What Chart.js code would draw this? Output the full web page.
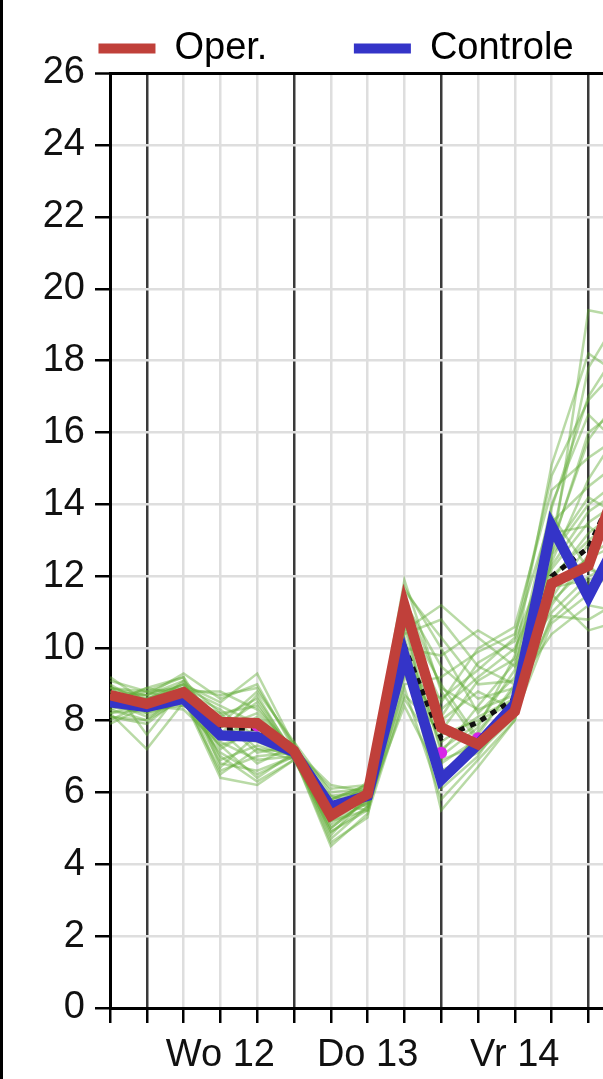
<!DOCTYPE html>
<html>
<head>
<meta charset="utf-8">
<script src="https://cdn.jsdelivr.net/npm/chart.js@4.4.1/dist/chart.umd.min.js"></script>
<style>
  html, body { margin: 0; padding: 0; background: #fff; overflow: hidden; }
  #wrap { position: relative; width: 672px; height: 1079px; }
  #edge { position: absolute; left: 0; top: 0; width: 3px; height: 1079px; background: #000; }
</style>
</head>
<body>
<div id="wrap">
  <canvas id="chart"></canvas>
  <div id="edge"></div>
</div>
<script>
// x = 6-hour steps, 0 .. 14
const steps = [0, 1, 2, 3, 4, 5, 6, 7, 8, 9, 10, 11, 12, 13, 14];
const dayLines = [1, 5, 9, 13];
const labelSteps = [3, 7, 11];
const labelTexts = ['Wo 12', 'Do 13', 'Vr 14'];

const oper     = [8.7, 8.46, 8.78, 7.95, 7.92, 7.15, 5.35, 5.95, 11.2, 7.8, 7.33, 8.25, 11.8, 12.3, 15.2];
const controle = [8.5, 8.37, 8.6, 7.58, 7.54, 7.12, 5.6, 5.9, 9.8, 6.35, 7.33, 8.45, 13.4, 11.43, 13.4];
const ensMean  = [8.6, 8.3, 8.65, 7.78, 7.78, 7.15, 5.5, 5.85, 10.05, 7.5, 7.95, 8.6, 12.0, 12.8, 15.0];
const obsSteps = [4, 6, 9, 10];
const obsVals  = [7.85, 5.6, 7.1, 7.5];

// ensemble members (green)
const members = [
  [8.9, 8.6, 9.0, 8.5, 9.3, 7.3, 5.8, 6.1, 11.9, 8.8, 7.4, 8.3, 12.5, 19.4, 19.2],
  [8.2, 7.2, 8.5, 7.1, 6.5, 7.0, 5.2, 5.7, 9.8, 5.5, 6.7, 8.0, 13.9, 17.0, 18.6],
  [8.6, 8.4, 8.8, 8.8, 8.3, 7.2, 6.1, 6.2, 10.5, 11.2, 10.3, 9.5, 11.0, 12.0, 12.5],
  [9.1, 8.8, 9.2, 7.6, 7.4, 7.0, 4.5, 5.4, 8.6, 7.0, 7.8, 9.8, 15.1, 18.2, 17.5],
  [8.4, 8.2, 8.6, 6.4, 6.2, 6.9, 5.0, 5.8, 10.9, 6.1, 7.0, 8.5, 12.2, 13.5, 14.2],
  [8.0, 8.5, 8.4, 7.9, 8.8, 7.4, 5.5, 6.0, 11.3, 9.5, 8.6, 8.9, 10.4, 11.2, 11.0],
  [8.7, 8.3, 9.1, 8.2, 7.2, 7.1, 5.7, 5.5, 9.2, 8.1, 9.6, 10.2, 12.8, 16.0, 16.8],
  [8.5, 8.9, 8.7, 6.8, 6.6, 7.0, 4.8, 5.9, 10.2, 6.8, 7.5, 8.2, 11.5, 10.5, 10.8],
  [9.0, 7.6, 8.9, 8.0, 8.0, 7.3, 5.4, 6.3, 11.6, 10.3, 9.0, 9.1, 13.5, 14.5, 15.3],
  [7.9, 8.4, 8.3, 7.3, 7.7, 6.9, 5.9, 5.6, 8.9, 5.8, 6.9, 8.0, 11.8, 12.5, 13.0],
  [8.8, 8.7, 9.3, 8.6, 9.0, 7.2, 5.3, 6.0, 10.7, 8.5, 10.0, 10.6, 14.4, 15.3, 16.0],
  [8.3, 8.0, 8.6, 6.6, 7.0, 7.1, 5.6, 5.8, 9.6, 7.4, 8.1, 8.6, 10.8, 11.8, 12.0],
  [8.6, 8.8, 8.5, 7.8, 8.5, 7.0, 4.6, 5.3, 11.0, 7.8, 7.2, 8.4, 12.0, 13.0, 13.8],
  [9.2, 8.5, 8.8, 8.3, 7.5, 7.4, 6.0, 6.1, 10.0, 9.8, 10.5, 9.9, 13.0, 17.8, 19.5],
  [8.1, 7.9, 8.7, 7.0, 6.3, 6.9, 5.1, 5.7, 8.4, 6.4, 7.6, 9.0, 11.3, 12.3, 11.5],
  [8.7, 8.6, 9.0, 7.5, 8.1, 7.2, 5.8, 6.2, 11.4, 8.9, 8.3, 8.7, 12.6, 14.0, 14.8],
  [8.4, 8.3, 8.4, 8.1, 8.6, 7.1, 5.5, 5.9, 10.3, 7.2, 7.9, 9.4, 14.0, 16.5, 15.5],
  [8.9, 8.7, 9.1, 6.9, 7.3, 7.0, 4.9, 5.6, 9.4, 6.6, 7.1, 8.1, 10.7, 11.5, 12.8],
  [8.5, 8.1, 8.6, 7.7, 6.8, 7.3, 5.9, 6.0, 10.8, 8.3, 9.2, 10.0, 12.3, 13.8, 14.5],
  [8.2, 8.5, 8.9, 8.4, 7.9, 7.0, 5.4, 5.8, 9.9, 7.6, 8.0, 8.5, 11.2, 12.6, 13.2],
  [8.6, 8.5, 8.8, 7.2, 7.8, 7.1, 5.6, 6.0, 10.4, 10.8, 9.5, 9.0, 12.9, 15.8, 17.2],
  [8.3, 8.6, 8.9, 8.7, 8.9, 7.3, 5.2, 5.5, 9.0, 9.2, 9.9, 10.4, 13.7, 12.2, 11.8],
  [8.8, 8.2, 8.5, 7.4, 6.9, 7.0, 5.0, 5.8, 10.6, 7.1, 8.4, 9.6, 11.9, 13.2, 14.0],
  [8.5, 8.9, 9.2, 6.7, 7.6, 7.2, 5.7, 6.1, 11.1, 8.0, 8.8, 8.3, 10.9, 10.8, 11.4],
  [9.0, 8.4, 8.6, 8.2, 8.4, 7.1, 4.7, 5.6, 9.5, 6.9, 7.3, 8.7, 12.4, 14.7, 16.3],
  [8.1, 8.0, 8.8, 7.6, 8.7, 7.0, 5.8, 6.2, 11.7, 10.0, 8.2, 9.2, 13.2, 13.4, 12.6],
  [8.7, 8.7, 9.0, 8.0, 7.1, 7.3, 5.3, 5.9, 10.1, 6.2, 7.7, 8.9, 11.4, 12.9, 13.5],
  [8.4, 8.5, 8.7, 6.5, 7.2, 6.9, 5.6, 5.7, 9.3, 8.6, 9.4, 10.3, 14.8, 16.9, 18.0],
  [8.9, 8.8, 8.9, 7.8, 8.2, 7.2, 6.2, 6.0, 10.9, 9.0, 7.5, 8.4, 11.7, 11.9, 12.2],
  [8.2, 8.3, 8.5, 7.3, 6.4, 7.1, 4.9, 5.5, 8.7, 7.7, 9.1, 9.7, 12.7, 14.2, 13.6]
];

const toPoints = (xs, ys) => xs.map((x, i) => ({ x: x, y: ys[i] }));
const font = { family: '"Liberation Sans", Arial, sans-serif', size: 38 };

const datasets = [
  { label: 'Oper.', data: toPoints(steps, oper), borderColor: '#c0403a', backgroundColor: '#c0403a',
    borderWidth: 10.5, pointRadius: 0, tension: 0 },
  { label: 'Controle', data: toPoints(steps, controle), borderColor: '#3434c8', backgroundColor: '#3434c8',
    borderWidth: 10.5, pointRadius: 0, tension: 0 },
  { label: 'obs', data: toPoints(obsSteps, obsVals), showLine: false, pointRadius: 6,
    pointBackgroundColor: '#d824e8', pointBorderWidth: 0 },
  { label: 'mean', data: toPoints(steps, ensMean), borderColor: '#111', borderWidth: 5,
    borderDash: [6, 6], pointRadius: 0, tension: 0 }
];
members.forEach((m, i) => {
  datasets.push({ label: 'ens' + i, data: toPoints(steps, m), borderColor: 'rgba(100,172,58,0.45)',
    borderWidth: 2.5, pointRadius: 0, tension: 0 });
});

new Chart(document.getElementById('chart'), {
  type: 'line',
  data: { datasets: datasets },
  options: {
    responsive: true,
    maintainAspectRatio: false,
    animation: false,
    layout: { padding: { top: 27.5, left: 0, right: 0, bottom: 0 } },
    plugins: {
      tooltip: { enabled: false },
      legend: {
        position: 'top',
        maxHeight: 45.5,
        labels: {
          font: font,
          color: '#111',
          boxWidth: 57,
          boxHeight: 10,
          padding: 2,
          generateLabels: chart => {
            const ds = chart.data.datasets;
            return [0, 1].map(i => ({
              text: i === 0 ? ds[i].label + '        ' : ds[i].label,
              fillStyle: ds[i].borderColor,
              strokeStyle: ds[i].borderColor,
              lineWidth: 0,
              datasetIndex: i,
              hidden: false
            }));
          }
        }
      }
    },
    scales: {
      x: {
        type: 'linear',
        min: 0,
        max: 15,
        afterFit: s => { s.height = 71; },
        border: { display: true, color: '#000', width: 3 },
        grid: {
          drawTicks: true,
          tickLength: 15,
          tickColor: '#000',
          tickWidth: 2.5,
          lineWidth: 2.5,
          color: ctx => dayLines.includes(ctx.tick && ctx.tick.value) ? '#3a3a3a' : '#dedede'
        },
        ticks: {
          stepSize: 1,
          autoSkip: false,
          maxRotation: 0,
          padding: 10,
          font: font,
          color: '#111',
          callback: v => {
            const k = labelSteps.indexOf(v);
            return k >= 0 ? labelTexts[k] : '';
          }
        }
      },
      y: {
        min: 0,
        max: 26,
        afterFit: s => { s.width = 110; },
        border: { display: true, color: '#000', width: 3 },
        grid: {
          drawTicks: true,
          tickLength: 15,
          tickColor: '#000',
          tickWidth: 2.5,
          lineWidth: ctx => ctx.tick && ctx.tick.value === 26 ? 3 : 2.5,
          color: ctx => ctx.tick && ctx.tick.value === 26 ? '#000' : '#dedede'
        },
        ticks: {
          stepSize: 2,
          padding: 10,
          font: font,
          color: '#111'
        }
      }
    }
  }
});
</script>
</body>
</html>
